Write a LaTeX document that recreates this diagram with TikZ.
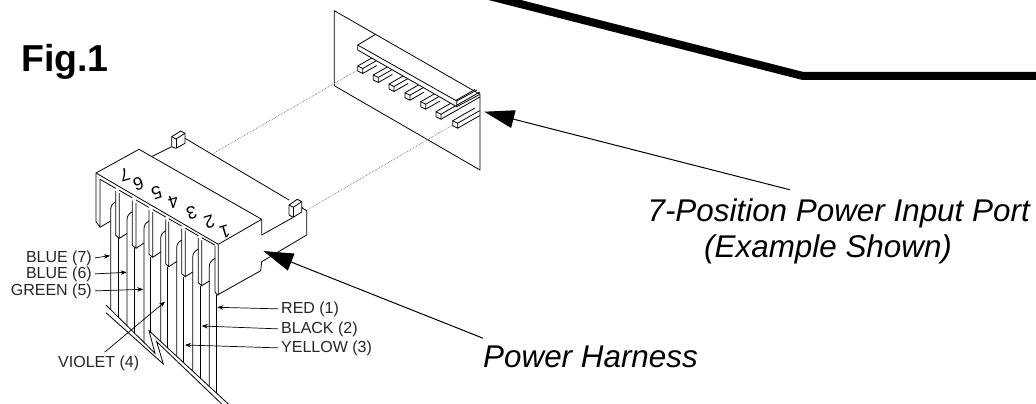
\documentclass[tikz,border=0pt]{standalone}
\usepackage{fontspec}
\setmainfont{Liberation Sans}
\usetikzlibrary{arrows.meta}
\tikzset{%
	body/.style={line width=0.8pt, line join=round},
	wire/.style={line width=0.8pt},
	sight/.style={line width=0.7pt, densely dotted, black!55},
	cable/.style={line width=8pt},
	smalllabel/.style={inner sep=3pt, font=\fontsize{16}{18}\selectfont, text=black!85},
	biglabel/.style={inner sep=3pt, font=\fontsize{31.4}{34}\selectfont\itshape},
	poslabel/.style={inner sep=0pt, rotate=197, font=\fontsize{18}{19}\selectfont},
	thinarrow/.style={line width=0.7pt, -{Stealth[length=6pt,width=4.5pt]}},
	bigarrow/.style={line width=1pt, -{Triangle[length=30pt,width=18pt]}}
}
\newcommand{\portpin}[3]{%
	\draw[body, fill=white] (#1,#2) -- ++(0,5) -- ++(5,2.5) -- ++(0,-5) -- cycle;
	\draw[body] (#1,#2) -- ++(#3,-0.571*#3);
	\draw[body] ({#1+5},{#2+2.5}) -- ++(#3,-0.571*#3);
	\draw[body] ({#1+5},{#2+7.5}) -- ++(#3,-0.571*#3);
}
% #1 left edge, #2 top, #3 bottom of the wall, #4 inner edge
\newcommand{\shroudwall}[4]{%
	\draw[body] (#1,#2) -- (#1,{#3-3}) -- (#4,#3) -- ({#4},{#2+2.1});
}
\begin{document}
\begin{tikzpicture}[x=1pt, y=-1pt]
	\useasboundingbox (0,0) rectangle (1036,404);

	\node[anchor=base west, inner sep=0pt, font=\fontsize{37.5}{40}\selectfont\bfseries] (figlabel) at (21,71) {Fig.1};
	\draw[cable] (489,-4) -- (803,76) -- (1042,76);

	% port panel
	\draw[body] (334.3,10.7) -- (480,94.3) -- (480,170) -- (334.3,85.7) -- cycle;
	\portpin{357.7}{66}{14}
	\portpin{373.3}{75}{14}
	\portpin{389}{84}{14}
	\portpin{405}{92.7}{14}
	\portpin{420.7}{101.7}{14}
	\portpin{436}{111.7}{39}
	\portpin{452.7}{120.7}{22}
	\draw[body, fill=white] (357.7,45) -- (357.7,50) -- (456.7,106.7) -- (456.7,101) -- cycle;
	\draw[body] (357.7,45) -- (375.7,34.3);
	\draw[body] (456.7,101) -- (477,90);
	\draw[body] (456.7,106.7) -- (480,94.3);

	\draw[sight] (213.3,153.3) -- (357.7,70);
	\draw[sight] (306,210.7) -- (452.7,125);

	% harness connector
	\draw[body] (96,173) -- (139,149.3) -- (261.7,219.3) -- (218.3,244.3) -- cycle;
	\draw[body] (151.7,156.7) -- (171.7,146.7);
	\draw[body] (185,138.3) -- (289,200);
	\draw[body] (261.7,219.3) -- (261.7,235) -- (293.3,217.3);
	\draw[body] (301.7,206.7) -- (302.7,208.3) -- (306.7,210.7) -- (306.7,235) -- (261.7,261.7) -- (260.7,270.7) -- (217.3,295);
	\draw[body, fill=white] (289,205) -- (289,215) -- (293.3,217.3) -- (301.7,212) -- (301.7,201.7) -- (297.3,199.3) -- cycle;
	\draw[body] (289,205) -- (293.3,207.3) -- (301.7,201.7);
	\draw[body] (293.3,207.3) -- (293.3,217.3);
	\draw[body, fill=white] (171.7,136.7) -- (171.7,146.7) -- (176,148.3) -- (185,143.3) -- (185,133.3) -- (180.7,131) -- cycle;
	\draw[body] (171.7,136.7) -- (176,139) -- (185,133.3);
	\draw[body] (176,139) -- (176,148.3);

	\draw[body] (96,173) -- (96,221.7) -- (100,227.3) -- (100,179.3);
	\draw[wire] (100,227.3) -- (110.7,221);
	\shroudwall{115.7}{191}{238.3}{119.3}
	\draw[wire] (119.3,238.3) -- (127,233.5);
	\shroudwall{132.3}{200.5}{248.3}{136}
	\draw[wire] (136,248.3) -- (144,243);
	\shroudwall{149}{210}{257.3}{152.7}
	\draw[wire] (152.7,257.3) -- (160.7,252);
	\shroudwall{165.7}{219.5}{266.7}{168.7}
	\draw[wire] (168.7,266.7) -- (176.7,261.5);
	\shroudwall{181.7}{228.5}{276.7}{185.3}
	\draw[wire] (185.3,276.7) -- (192.7,272);
	\shroudwall{198.3}{238}{285.7}{201.7}
	\draw[wire] (201.7,285.7) -- (209.3,281);
	\draw[body] (215,246) -- (215,292) -- (217.3,295) -- (218.3,295) -- (218.3,244.3);
	\draw[body] (100,179.3) -- (115.7,188.3);
	\draw[body] (119.3,190.4) -- (132.3,197.8);
	\draw[body] (136,200) -- (149,207.4);
	\draw[body] (152.7,209.5) -- (165.7,217);
	\draw[body] (168.7,218.7) -- (181.7,226.1);
	\draw[body] (185.3,228.2) -- (198.3,235.7);
	\draw[body] (201.7,237.6) -- (215,245.2);

	% curved backs of the slots, running on as wires
	\draw[wire] (115.7,201.7) .. controls (112,204) and (110.7,206) .. (110.7,210) -- (110.7,309.6);
	\draw[wire] (132.3,211.7) .. controls (128.6,214) and (127,216) .. (127,220) -- (127,325.4);
	\draw[wire] (149,221) .. controls (145.3,223.3) and (144,225.3) .. (144,229) -- (144,342.5);
	\draw[wire] (165.7,230.7) .. controls (162,233) and (160.7,235) .. (160.7,239) -- (160.7,341);
	\draw[wire] (181.7,240) .. controls (178,242.3) and (176.7,244.3) .. (176.7,248.3) -- (176.7,356);
	\draw[wire] (198.3,249) .. controls (194.6,251.3) and (192.7,253.3) .. (192.7,257.3) -- (192.7,371);
	\draw[wire] (215,258.3) .. controls (211.3,260.6) and (209.3,262.6) .. (209.3,266.7) -- (209.3,386.4);
	\draw[wire] (118.7,238.3) -- (118.7,317.5);
	\draw[wire] (134.7,248.3) -- (134.7,333.3);
	\draw[wire] (150.7,257.3) -- (150.7,333);
	\draw[wire] (167.3,266.7) -- (167.3,347.6);
	\draw[wire] (183.3,276.7) -- (183.3,362);
	\draw[wire] (200.7,285.7) -- (200.7,378.5);
	\draw[wire] (216.7,295) -- (216.7,393.3);

	% break in the wires
	\draw[wire] (106,305) -- (155,353.3) -- (149,330.7) -- (228.3,404);
	\draw[wire] (106,312.7) -- (163.3,364) -- (156.7,341.7) -- (221.7,404);

	\node[poslabel] (pos7) at (125,175) {7};
	\node[poslabel] (pos6) at (138.3,184) {6};
	\node[poslabel] (pos5) at (156.7,192.7) {5};
	\node[poslabel] (pos4) at (173.3,201.7) {4};
	\node[poslabel] (pos3) at (191.7,212.7) {3};
	\node[poslabel] (pos2) at (209.3,221.7) {2};
	\node[poslabel] (pos1) at (225,231.7) {1};

	% wire labels
	\node[smalllabel, anchor=base east] (blue7) at (95,262) {BLUE (7)};
	\node[smalllabel, anchor=base east] (blue6) at (95,278) {BLUE (6)};
	\node[smalllabel, anchor=base east] (green5) at (95,295) {GREEN (5)};
	\node[smalllabel, anchor=base west] (violet4) at (55,367) {VIOLET (4)};
	\node[smalllabel, anchor=base west] (red1) at (278,313) {RED (1)};
	\node[smalllabel, anchor=base west] (black2) at (278,333) {BLACK (2)};
	\node[smalllabel, anchor=base west] (yellow3) at (278,352) {YELLOW (3)};
	\coordinate (blue7end) at (110,255.7);
	\coordinate (blue6end) at (126.7,272.3);
	\coordinate (green5end) at (143.3,289.3);
	\coordinate (violet4end) at (165,301.7);
	\coordinate (red1end) at (217.3,307.3);
	\coordinate (black2end) at (201.7,326);
	\coordinate (yellow3end) at (185,345);
	\draw[thinarrow] (blue7.east) -- (blue7end);
	\draw[thinarrow] (blue6.east) -- (blue6end);
	\draw[thinarrow] (green5.east) -- (green5end);
	\draw[thinarrow] (violet4.north) ++(6,0) coordinate (violet4start) -- (violet4end);
	\draw[thinarrow] (red1.west) -- (red1end);
	\draw[thinarrow] (black2.west) -- (black2end);
	\draw[thinarrow] (yellow3.west) -- (yellow3end);

	% callouts
	\node[biglabel, inner ysep=9pt, anchor=base east] (portline) at (1033,221.7) {7-Position Power Input Port};
	\node[biglabel, anchor=base west] (exampleline) at (701,257) {(Example Shown)};
	\node[biglabel, inner xsep=0pt, inner ysep=7pt, anchor=base west] (harness) at (483,367) {Power Harness};
	\coordinate (porttip) at (484.3,111.7);
	\coordinate (harnesstip) at (263.3,251);
	\draw[bigarrow] (portline.154) -- (porttip);
	\draw[bigarrow] (harness.north west) -- (harnesstip);
\end{tikzpicture}
\end{document}
